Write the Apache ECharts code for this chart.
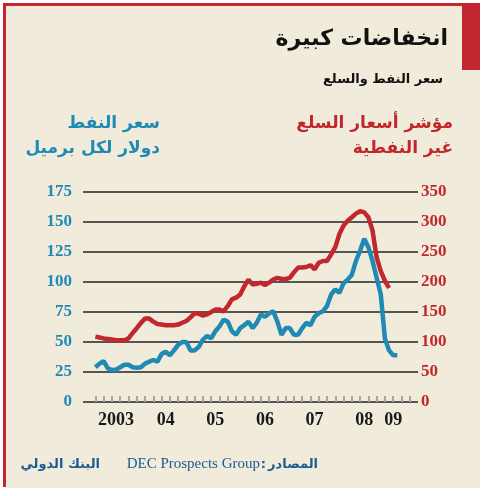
<!DOCTYPE html>
<html><head><meta charset="utf-8">
<script src="https://cdn.jsdelivr.net/npm/echarts@6/dist/echarts.min.js"></script>
<style>html,body{margin:0;padding:0;background:#fff}#c{width:484px;height:496px}</style>
</head><body><div id="c"></div>
<script>
// months Nov 2002 .. Jul 2009
const months = [];
for (let i = 0; i < 82; i++) { const t = 2002*12 + 10 + i; months.push(Math.floor(t/12) + '-' + String(t%12+1).padStart(2,'0')); }
const yearLabels = {'2003-07':'2003','2004-07':'04','2005-07':'05','2006-07':'06','2007-07':'07','2008-07':'08','2009-02':'09'};
// oil price, $ per barrel, from Jan 2003
const oil = [null,29,32,34,28,26.6,27,29,31,31,29,28.5,29,32,33.6,35,33.6,40,42,39,43,47.6,50,50,43,43,46,52,55,53,59,63,68.6,67,59,56,61.6,64,67,61.6,66,73,71,74,75.6,67,56,61.6,61.6,56,56,61.6,66,64,71,74,75.6,80,89.6,93.8,91,99,102,106,117.6,126,136,129,117.6,103.6,89.6,53,43,39,39];
// non-oil commodity price index, from Jan 2003
const comm = [null,109,107.5,106,105,104,103,103,103,106,115,123,132,139,139,134,130,129,128,128,128,129,132,135,141,148,147,144,146,150,154,154,151,160,171,174,179,193,204,196,197,199,195,199,204,207,205,205,207,216,224,224,225,228,221,232,235,235,246,258,280,294,302,308,314,318,316,308,286,241,218,202,190];
const pad = a => [null, null].concat(a);
const leftTicks = [0,175,25], rightTicks = [0,350,50];
const BLUE = '#1f8ab3', RED = '#c1272d', AR = '"DejaVu Sans", sans-serif', SERIF = '"Liberation Serif", serif';
const FOOT = '#1b5c93';
const chart = echarts.init(document.getElementById('c'));
chart.setOption({
  backgroundColor: '#fff',
  animation: false,
  graphic: [
    {type:'rect', shape:{x:5,y:4,width:475,height:484}, style:{fill:'#f1ebdb'}},
    {type:'rect', shape:{x:5,y:3,width:475,height:3}, style:{fill:RED}},
    {type:'rect', shape:{x:3,y:3,width:3,height:484}, style:{fill:RED}},
    {type:'rect', shape:{x:462,y:5,width:18,height:65}, style:{fill:RED}},
    {type:'text', right:36, top:28, style:{text:'انخفاضات كبيرة', font:'bold 22px '+AR, fill:'#111'}},
    {type:'text', right:41, top:73, style:{text:'سعر النفط والسلع', font:'bold 13px '+AR, fill:'#111'}},
    {type:'text', right:31, top:115, style:{text:'مؤشر أسعار السلع', font:'bold 17px '+AR, fill:RED}},
    {type:'text', right:31, top:140, style:{text:'غير النفطية', font:'bold 17px '+AR, fill:RED}},
    {type:'text', right:324, top:115, style:{text:'سعر النفط', font:'bold 17px '+AR, fill:BLUE}},
    {type:'text', right:324, top:140, style:{text:'دولار لكل برميل', font:'bold 17px '+AR, fill:BLUE}},
    {type:'text', x:318, y:465, style:{text:'المصادر', font:'bold 13px '+AR, fill:FOOT, textAlign:'right', textVerticalAlign:'middle'}},
    {type:'text', x:266, y:465, style:{text:':', font:'bold 13px '+AR, fill:FOOT, textAlign:'right', textVerticalAlign:'middle'}},
    {type:'text', x:260, y:464, style:{text:'DEC Prospects Group', font:'15px '+SERIF, fill:FOOT, textAlign:'right', textVerticalAlign:'middle'}},
    {type:'text', x:100, y:465, style:{text:'البنك الدولي', font:'bold 13px '+AR, fill:FOOT, textAlign:'right', textVerticalAlign:'middle'}}
  ],
  grid: {left:83, right:66, top:192, bottom:94},
  xAxis: {
    type:'category', data: months, boundaryGap:false,
    axisLine:{show:false},
    axisTick:{show:true, inside:true, length:6, interval:(i)=> i%2===1 && i>2 && i<80, lineStyle:{color:'#a9a59c', width:2}},
    axisLabel:{interval:(i,v)=> !!yearLabels[v], formatter:v=>yearLabels[v]||'', margin:9,
      fontWeight:'bold', fontSize:18, fontFamily:SERIF, color:'#1a1a1a'}
  },
  yAxis: [
    {type:'value', min:leftTicks[0], max:leftTicks[1], interval:leftTicks[2], position:'left',
     axisLine:{show:false}, axisTick:{show:false},
     axisLabel:{margin:11, fontWeight:'bold', fontSize:17, fontFamily:SERIF, color:BLUE},
     splitLine:{lineStyle:{color:'#555', width:2}}},
    {type:'value', min:rightTicks[0], max:rightTicks[1], interval:rightTicks[2], position:'right',
     axisLine:{show:false}, axisTick:{show:false},
     axisLabel:{margin:3, fontWeight:'bold', fontSize:17, fontFamily:SERIF, color:RED},
     splitLine:{show:false}}
  ],
  series: [
    {type:'line', yAxisIndex:1, data:pad(comm), symbol:'none', lineStyle:{color:RED, width:4.5}, z:3},
    {type:'line', yAxisIndex:0, data:pad(oil), symbol:'none', lineStyle:{color:BLUE, width:4.5}, z:4}
  ]
});
</script></body></html>
